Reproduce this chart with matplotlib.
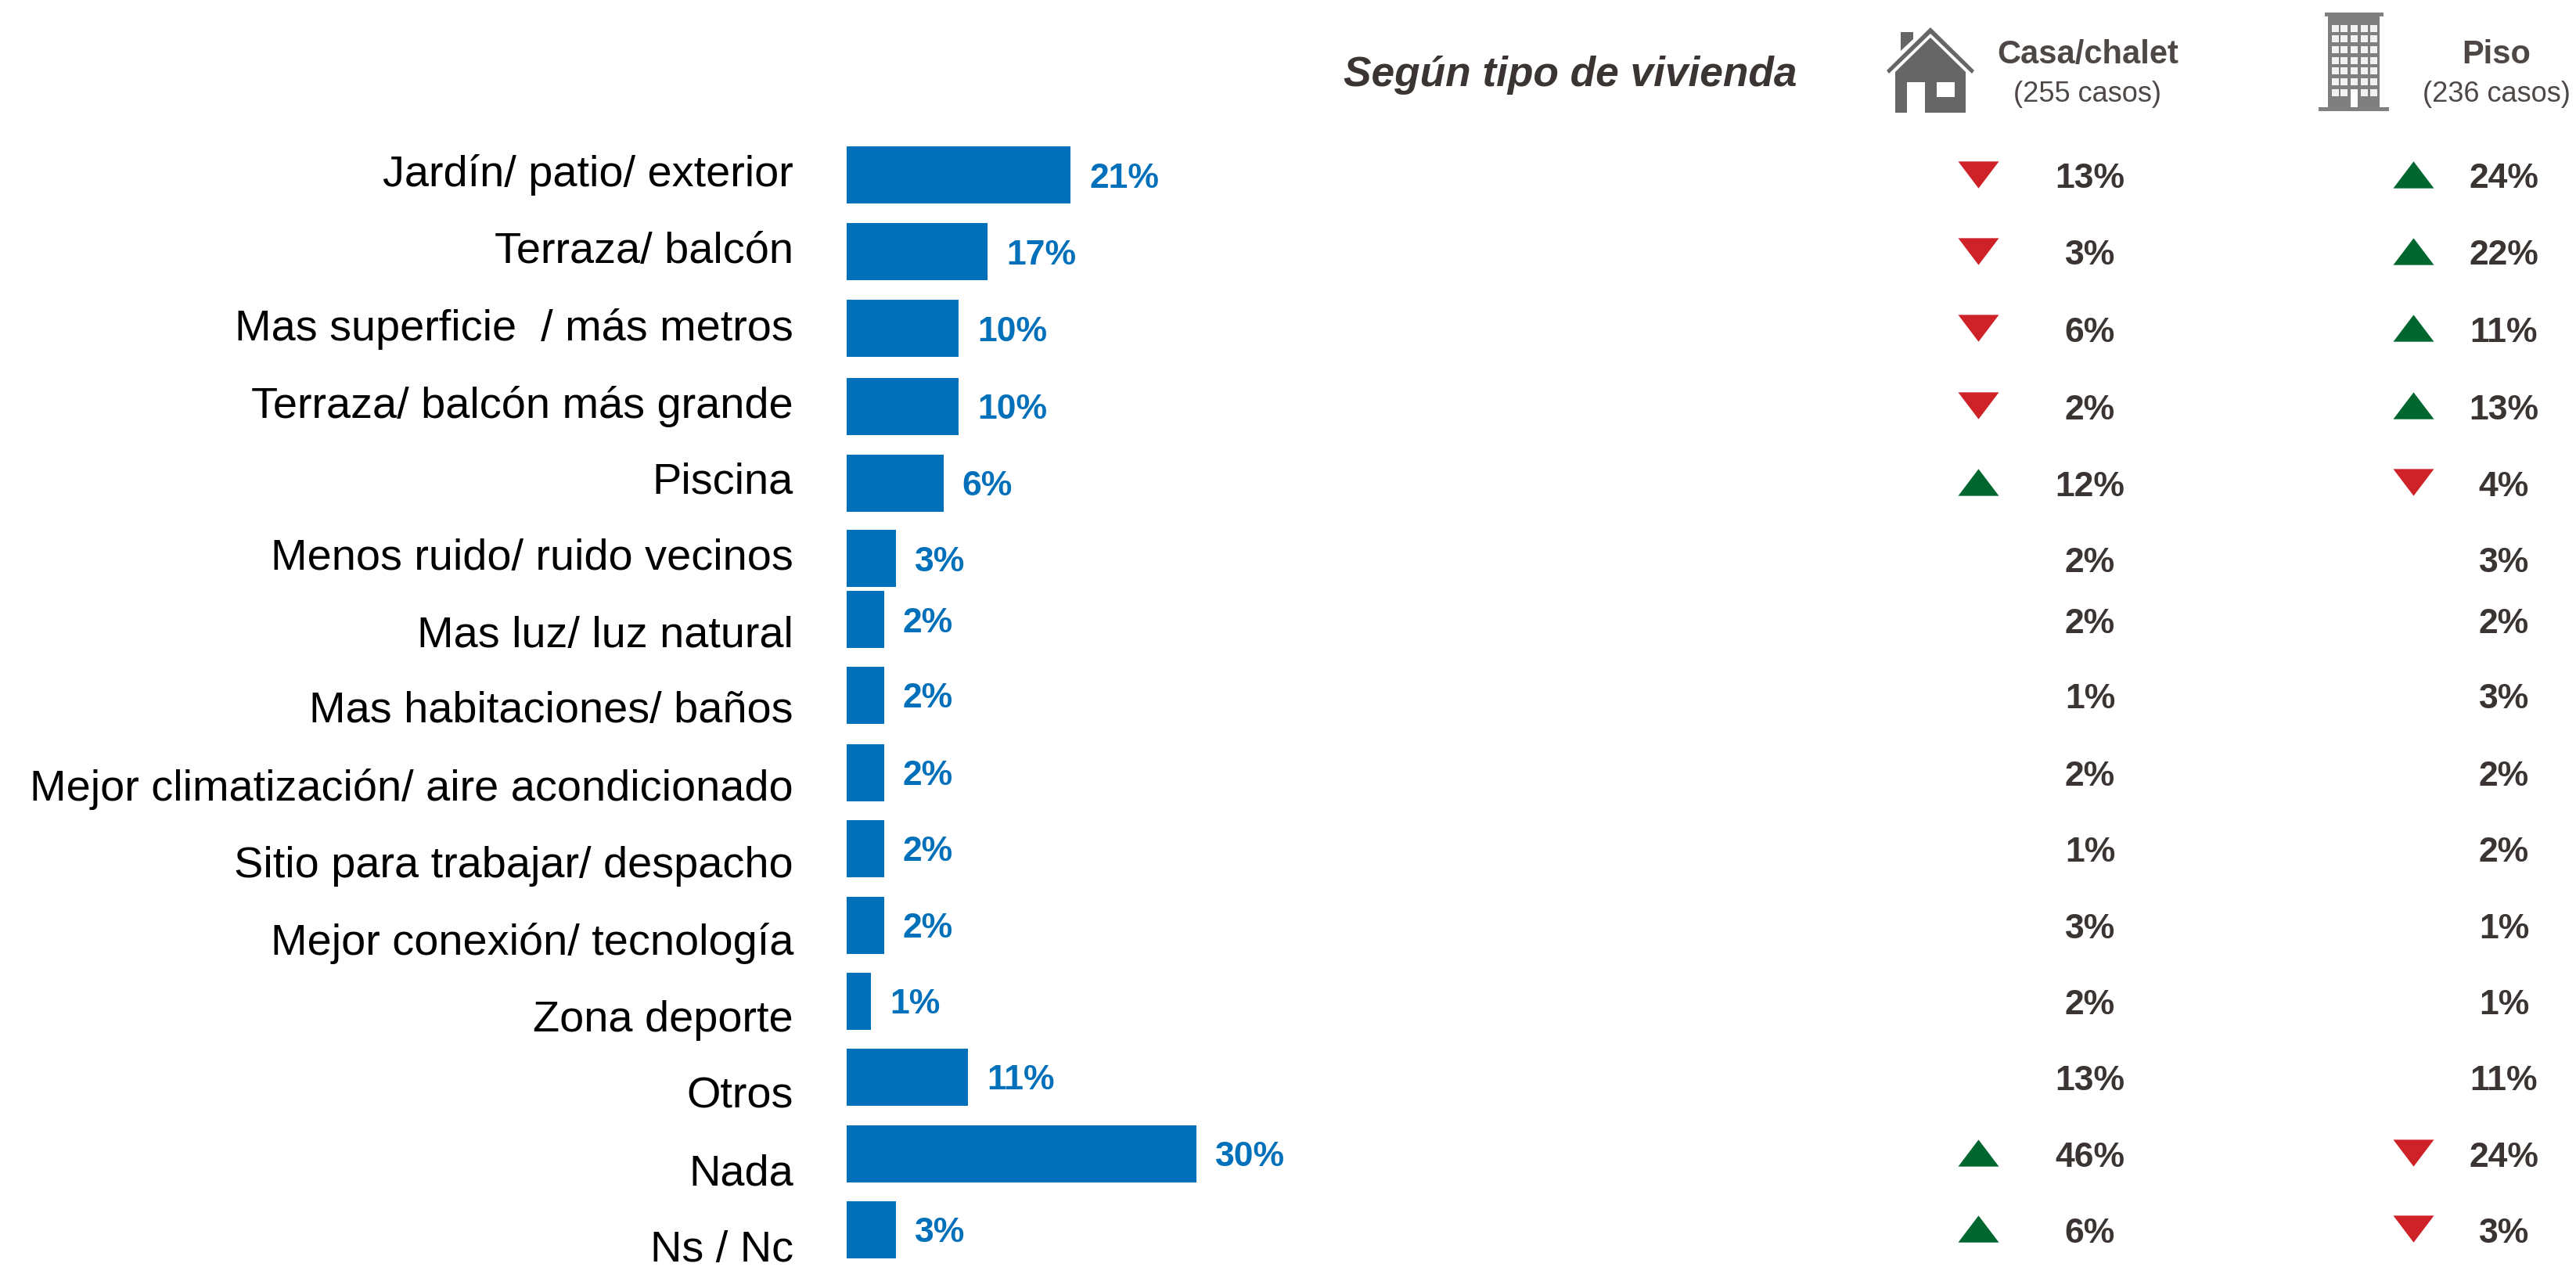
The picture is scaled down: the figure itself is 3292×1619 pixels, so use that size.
import matplotlib
matplotlib.use("Agg")
import matplotlib.pyplot as plt
from matplotlib.patches import Polygon, Rectangle

plt.rcParams['font.family'] = ['Liberation Sans', 'DejaVu Sans']

W = 3292
H = 1619

categories = ['Jardín/ patio/ exterior', 'Terraza/ balcón', 'Mas superficie  / más metros',
              'Terraza/ balcón más grande', 'Piscina', 'Menos ruido/ ruido vecinos',
              'Mas luz/ luz natural', 'Mas habitaciones/ baños',
              'Mejor climatización/ aire acondicionado', 'Sitio para trabajar/ despacho',
              'Mejor conexión/ tecnología', 'Zona deporte', 'Otros', 'Nada', 'Ns / Nc']

# bar lengths as drawn in the picture (they don't follow the printed labels exactly)
bar_lengths = [19.2, 12.1, 9.6, 9.6, 8.3, 4.2, 3.2, 3.2, 3.2, 3.2, 3.2, 2.1, 10.4, 30.0, 4.2]
total_labels = ['21%', '17%', '10%', '10%', '6%', '3%', '2%', '2%', '2%', '2%', '2%', '1%', '11%', '30%', '3%']

casa_labels = ['13%', '3%', '6%', '2%', '12%', '2%', '2%', '1%', '2%', '1%', '3%', '2%', '13%', '46%', '6%']
piso_labels = ['24%', '22%', '11%', '13%', '4%', '3%', '2%', '3%', '2%', '2%', '1%', '1%', '11%', '24%', '3%']

# +1 significantly above, -1 significantly below, 0 no marker
casa_dir = [-1, -1, -1, -1, 1, 0, 0, 0, 0, 0, 0, 0, 0, 1, 1]
piso_dir = [1, 1, 1, 1, -1, 0, 0, 0, 0, 0, 0, 0, 0, -1, -1]

# layout, in pixels of the full image
row_y = [224, 322, 420, 519, 617, 714, 792, 888, 987, 1084, 1182, 1279, 1376, 1474, 1571]
label_y = [224, 322, 420, 519, 616, 714, 813, 909, 1008, 1107, 1205, 1304, 1401, 1500, 1598]

BLUE = '#0070BA'
DARK = '#3A3533'
GREY_TXT = '#4D4845'
RED = '#CE2228'
GREEN = '#00662F'


def pt(px):
    return px * 0.72


fig = plt.figure(figsize=(W / 100, H / 100), dpi=100)

# overlay in pixel coordinates for text and icons
ax = fig.add_axes([0, 0, 1, 1])
ax.set_xlim(0, W)
ax.set_ylim(H, 0)
ax.axis('off')

# bars
bar_left = 1082
px_per_unit = 14.9
bx = fig.add_axes([bar_left / W, 0, (W - bar_left) / W, 1])
bx.set_xlim(0, (W - bar_left) / px_per_unit)
bx.set_ylim(H, 0)
bx.axis('off')
bx.barh(row_y, bar_lengths, height=73, color=BLUE, linewidth=0)

for y, v, lab in zip(row_y, bar_lengths, total_labels):
    bx.annotate(lab, (v, y + 4), xytext=(pt(24), 0), textcoords='offset points',
                ha='left', va='center', fontsize=32, fontweight='bold', color=BLUE)

for y, lab in zip(label_y, categories):
    ax.text(1014, y, lab, ha='right', va='center', fontsize=40.2, color='black')

# columns on the right
casa_x = 2671
piso_x = 3200
casa_tri_x = 2528
piso_tri_x = 3084
up = [(-1, -0.66), (1, -0.66), (0, 0.66)]
down = [(-1, 0.66), (1, 0.66), (0, -0.66)]

for y, a, b, da, db in zip(row_y, casa_labels, piso_labels, casa_dir, piso_dir):
    ax.text(casa_x, y + 5, a, ha='center', va='center', fontsize=32, fontweight='bold', color=DARK)
    ax.text(piso_x, y + 5, b, ha='center', va='center', fontsize=32, fontweight='bold', color=DARK)
    if da != 0:
        ax.scatter([casa_tri_x], [y - 1], marker=up if da > 0 else down, s=pt(52) ** 2,
                   color=GREEN if da > 0 else RED, linewidths=0)
    if db != 0:
        ax.scatter([piso_tri_x], [y - 1], marker=up if db > 0 else down, s=pt(52) ** 2,
                   color=GREEN if db > 0 else RED, linewidths=0)

# header
ax.text(1717, 96, 'Según tipo de vivienda', ha='left', va='center', fontsize=38.3,
        fontweight='bold', fontstyle='italic', color=DARK)
ax.text(2668, 70, 'Casa/chalet', ha='center', va='center', fontsize=30, fontweight='bold', color=GREY_TXT)
ax.text(2668, 120, '(255 casos)', ha='center', va='center', fontsize=26, color=GREY_TXT)
ax.text(3190, 70, 'Piso', ha='center', va='center', fontsize=30, fontweight='bold', color=GREY_TXT)
ax.text(3190, 120, '(236 casos)', ha='center', va='center', fontsize=26, color=GREY_TXT)

# house icon
HOUSE = '#666666'
ax.add_patch(Polygon([(2467, 48), (2512, 92), (2512, 144), (2460, 144), (2460, 105), (2437, 105),
                      (2437, 144), (2422, 144), (2422, 92)], color=HOUSE, lw=0))
ax.add_patch(Polygon([(2467, 35), (2523, 90), (2520, 94), (2467, 43), (2414, 94), (2411, 90)],
                     color=HOUSE, lw=0))
ax.add_patch(Polygon([(2429, 41), (2445, 41), (2445, 50), (2429, 65)], color=HOUSE, lw=0))
ax.add_patch(Rectangle((2475, 105), 23, 19, color='white', lw=0))

# building icon
BLD = '#7F7F7F'
ax.add_patch(Rectangle((2971, 16), 75, 5, color=BLD, lw=0))
ax.add_patch(Rectangle((2975, 21), 66, 116, color=BLD, lw=0))
ax.add_patch(Rectangle((2963, 137), 90, 5, color=BLD, lw=0))
for wy in [32, 45, 59, 73, 86, 100, 114]:
    for wx in [2980, 2991, 3004, 3017, 3029]:
        ax.add_patch(Rectangle((wx, wy), 9, 9, color='#F2F2F2', lw=0))
ax.add_patch(Rectangle((3004, 115), 9, 22, color='white', lw=0))

fig.savefig('out.png', dpi=100, facecolor='white')
